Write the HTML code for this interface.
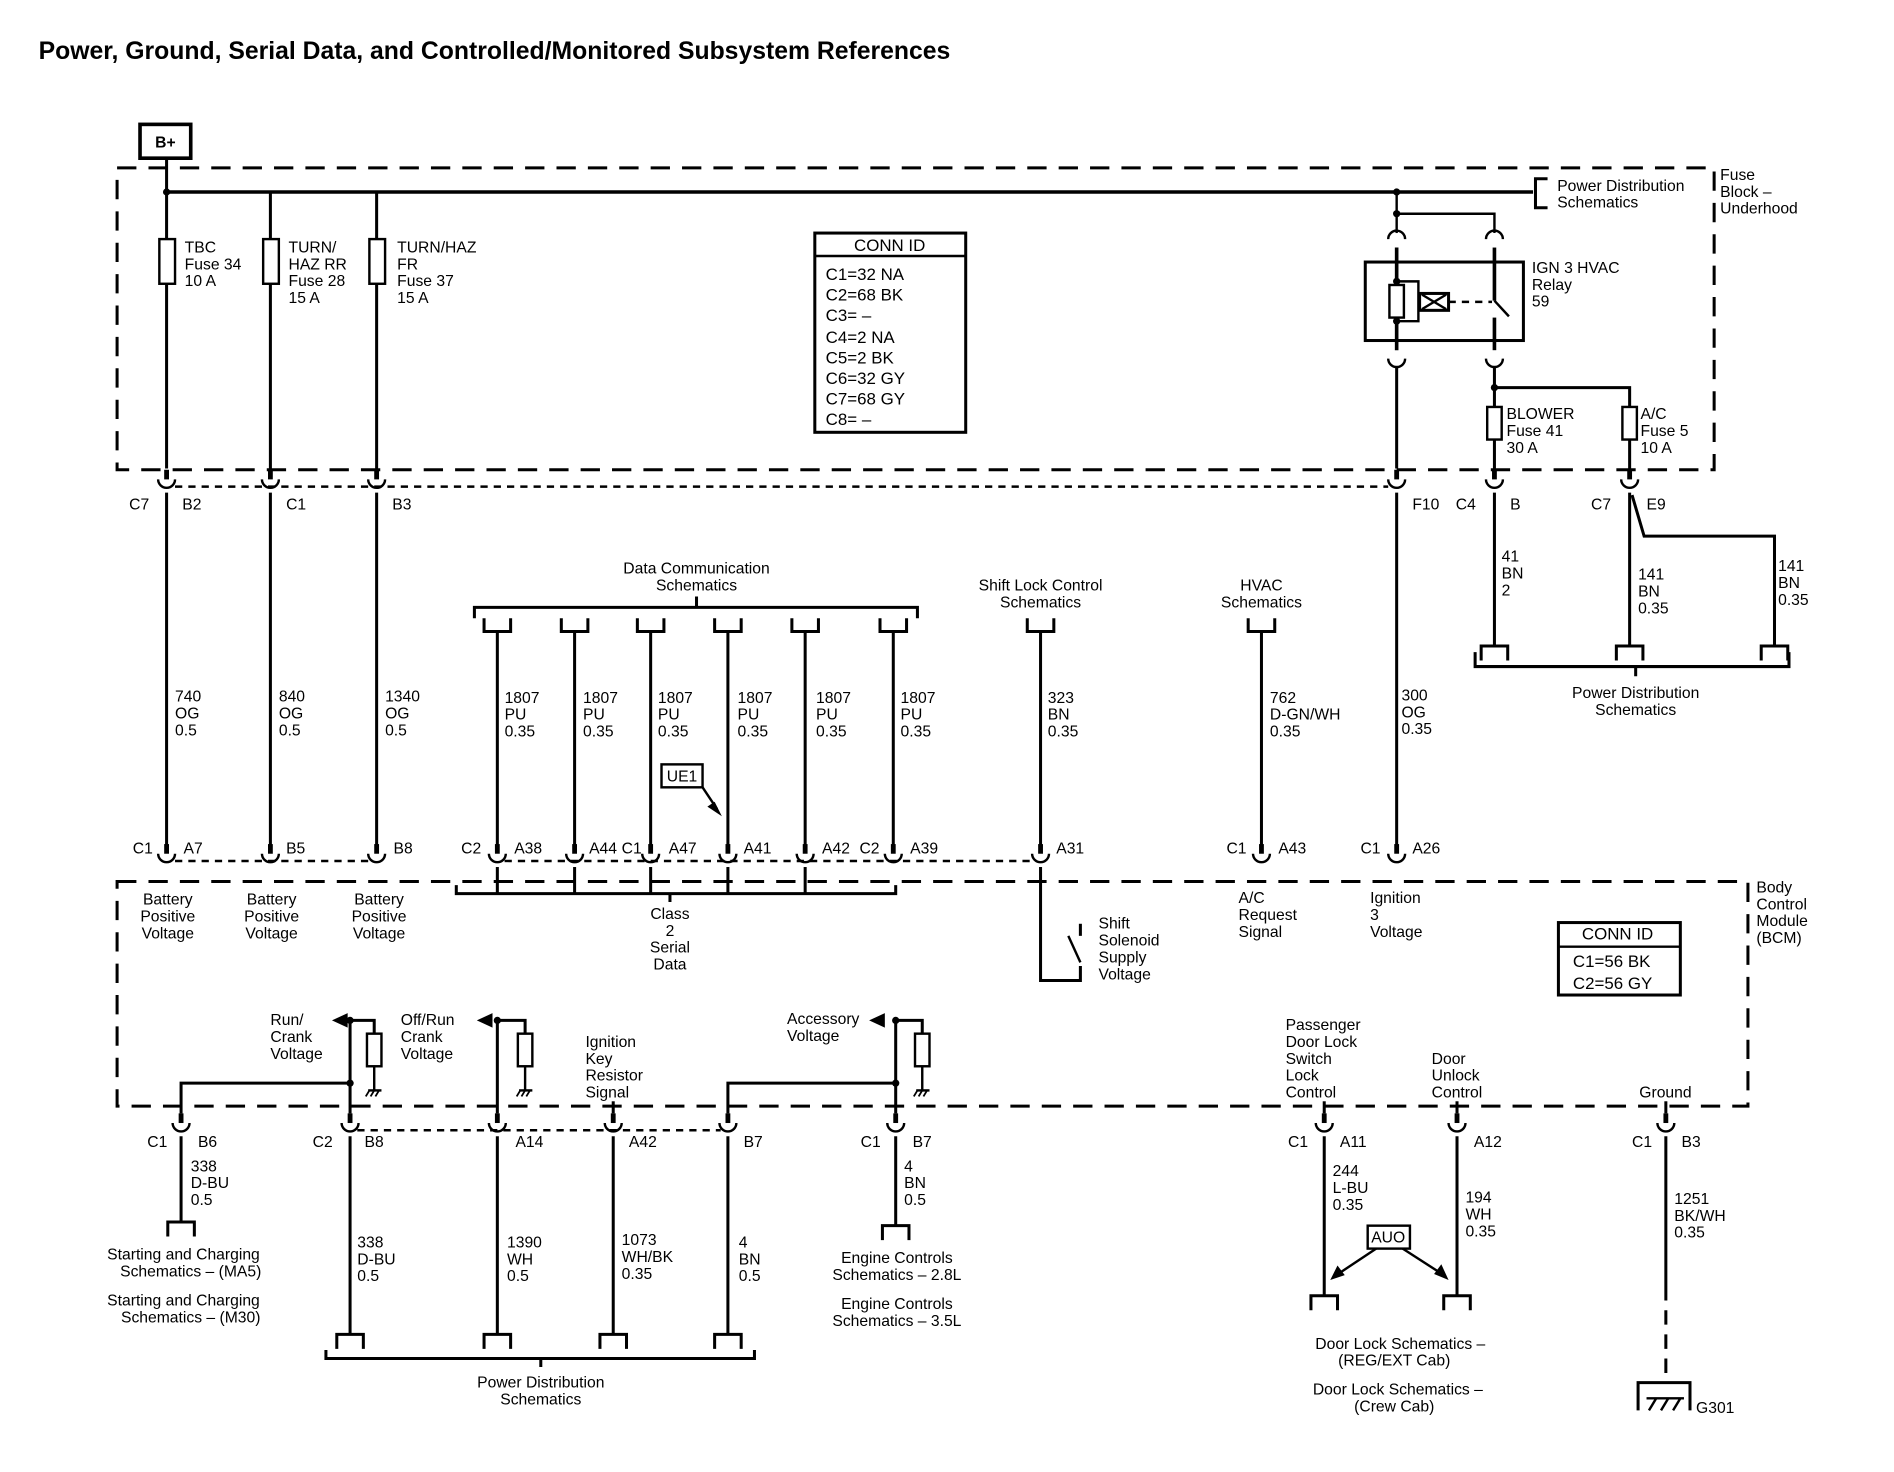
<!DOCTYPE html>
<html><head><meta charset="utf-8"><style>
html,body{margin:0;padding:0;background:#fff}
svg{display:block}
text{font-family:"Liberation Sans",Arial,sans-serif;font-size:13px;fill:#000;letter-spacing:0px}
.c{text-anchor:middle}.r{text-anchor:end}.b{font-weight:bold}
</style></head><body>
<svg width="1894" height="1472" viewBox="0 0 1569 1219" preserveAspectRatio="none" xmlns="http://www.w3.org/2000/svg">
<defs>
<g id="k"><line x1="0" y1="-13" x2="0" y2="-5" stroke="#000" stroke-width="4"/><path d="M-7,-5 A7,7 0 0 0 7,-5" fill="none" stroke="#000" stroke-width="2"/></g>
<path id="pu" d="M-11,0 V11 H11 V0" fill="none" stroke="#000" stroke-width="2.5"/>
<path id="pd" d="M-11,12 V0 H11 V12" fill="none" stroke="#000" stroke-width="2.5"/>
<g id="gnd"><line x1="0" y1="0" x2="0" y2="20" stroke="#000" stroke-width="2"/><line x1="-5" y1="20" x2="6" y2="20" stroke="#000" stroke-width="2"/><path d="M-4,20 l-3,5 M0,20 l-3,5 M4,20 l-3,5" stroke="#000" stroke-width="1.5"/></g>
</defs>
<rect width="1569" height="1219" fill="#fff"/>
<text x="32" y="49" class="b" style="font-size:20.5px">Power, Ground, Serial Data, and Controlled/Monitored Subsystem References</text>

<g fill="none" stroke="#000">
<rect x="116" y="103" width="42" height="28" stroke-width="3"/>
<rect x="97" y="139" width="1323" height="250" stroke-width="2.5" stroke-dasharray="16,10"/>
<rect x="97" y="730" width="1351" height="186" stroke-width="2.5" stroke-dasharray="16,10"/>
<line x1="138" y1="159" x2="1270" y2="159" stroke-width="3"/>
<path d="M1282,148 H1272 V172 H1282" stroke-width="2.5"/>
<line x1="138" y1="131" x2="138" y2="388" stroke-width="2.5"/>
<line x1="224" y1="159" x2="224" y2="388" stroke-width="2.5"/>
<line x1="312" y1="159" x2="312" y2="388" stroke-width="2.5"/>
<rect x="132" y="198" width="13" height="37" stroke-width="2" fill="#fff"/>
<rect x="218" y="198" width="13" height="37" stroke-width="2" fill="#fff"/>
<rect x="306" y="198" width="13" height="37" stroke-width="2" fill="#fff"/>
<line x1="1157" y1="159" x2="1157" y2="193" stroke-width="2"/>
<path d="M1157,177 H1238 V193" stroke-width="2"/>
<rect x="1131" y="217" width="131" height="65" stroke-width="2.5"/>
<line x1="1157" y1="205" x2="1157" y2="290" stroke-width="3"/>
<line x1="1238" y1="205" x2="1238" y2="249" stroke-width="3"/>
<line x1="1238" y1="263" x2="1238" y2="290" stroke-width="3"/>
<line x1="1238" y1="249" x2="1250" y2="262" stroke-width="2"/>
<path d="M1157,233 H1175 V266 H1157" stroke-width="2"/>
<rect x="1151" y="236" width="12" height="27" stroke-width="2" fill="#fff"/>
<rect x="1176" y="243" width="24" height="14" stroke-width="2.5" fill="#fff"/>
<path d="M1178,244 L1198,256 M1198,244 L1178,256" stroke-width="2"/>
<line x1="1200" y1="250" x2="1236" y2="250" stroke-width="2" stroke-dasharray="6,5"/>
<path d="M1150,198 A7,7 0 0 1 1164,198 M1231,198 A7,7 0 0 1 1245,198 M1150,297 A7,7 0 0 0 1164,297 M1231,297 A7,7 0 0 0 1245,297" stroke-width="2"/>
<line x1="1157" y1="303" x2="1157" y2="388" stroke-width="2.5"/>
<line x1="1238" y1="303" x2="1238" y2="388" stroke-width="2.5"/>
<path d="M1238,321 H1350 V388" stroke-width="2.5"/>
<rect x="1232" y="337" width="12" height="27" stroke-width="2" fill="#fff"/>
<rect x="1344" y="337" width="12" height="27" stroke-width="2" fill="#fff"/>
<rect x="675" y="193" width="125" height="165" stroke-width="2.5"/>
<line x1="675" y1="212" x2="800" y2="212" stroke-width="2"/>
<rect x="1291" y="764" width="101" height="60" stroke-width="2.5"/>
<line x1="1291" y1="784" x2="1392" y2="784" stroke-width="2"/>
<line x1="145" y1="403" x2="1150" y2="403" stroke-width="2" stroke-dasharray="6,5"/>
<g stroke-width="2.5">
<line x1="138" y1="408" x2="138" y2="700"/><line x1="224" y1="408" x2="224" y2="700"/><line x1="312" y1="408" x2="312" y2="700"/><line x1="1157" y1="408" x2="1157" y2="700"/>
<line x1="1238" y1="408" x2="1238" y2="535"/><line x1="1350" y1="408" x2="1350" y2="535"/>
<path d="M1352,410 L1362,444 H1470 V535"/>
<path d="M1222,540 V552 H1482 V540 M1355,552 V560"/>
<line x1="412" y1="523" x2="412" y2="700"/><line x1="476" y1="523" x2="476" y2="700"/><line x1="539" y1="523" x2="539" y2="700"/><line x1="603" y1="523" x2="603" y2="700"/><line x1="667" y1="523" x2="667" y2="700"/><line x1="740" y1="523" x2="740" y2="700"/>
<line x1="862" y1="523" x2="862" y2="700"/><line x1="1045" y1="523" x2="1045" y2="700"/>
<path d="M393,512 V503 H760 V512 M577,503 V494"/>
</g>
<rect x="548" y="633" width="34" height="19" stroke-width="2"/>
<line x1="582" y1="652" x2="594" y2="670" stroke-width="2"/>
<line x1="145" y1="713" x2="306" y2="713" stroke-width="2" stroke-dasharray="6,5"/>
<line x1="418" y1="713" x2="856" y2="713" stroke-width="2" stroke-dasharray="6,5"/>
<g stroke-width="2.5">
<path d="M378,733 V740 H742 V733 M555,740 V747"/>
<line x1="412" y1="718" x2="412" y2="740"/><line x1="476" y1="718" x2="476" y2="740"/><line x1="539" y1="718" x2="539" y2="740"/><line x1="603" y1="718" x2="603" y2="740"/><line x1="667" y1="718" x2="667" y2="740"/>
<path d="M862,718 V812 H895 V800"/>
<line x1="885" y1="775" x2="895" y2="797" stroke-width="2"/>
<line x1="895" y1="765" x2="895" y2="775"/>
<path d="M290,845 V922 M290,897 H150 V922 M290,845 H310 V856"/>
<path d="M412,845 V922 M412,845 H435 V856"/>
<path d="M742,845 V922 M742,897 H603 V922 M742,845 H764 V856"/>
<line x1="508" y1="912" x2="508" y2="922"/>
<line x1="1097" y1="912" x2="1097" y2="922"/><line x1="1207" y1="912" x2="1207" y2="922"/><line x1="1380" y1="912" x2="1380" y2="922"/>
</g>
<rect x="304" y="856" width="12" height="27" stroke-width="2" fill="#fff"/>
<rect x="429" y="856" width="12" height="27" stroke-width="2" fill="#fff"/>
<rect x="758" y="856" width="12" height="27" stroke-width="2" fill="#fff"/>
<line x1="296" y1="936" x2="597" y2="936" stroke-width="2" stroke-dasharray="6,5"/>
<g stroke-width="2.5">
<line x1="150" y1="941" x2="150" y2="1012"/>
<line x1="290" y1="941" x2="290" y2="1105"/><line x1="412" y1="941" x2="412" y2="1105"/><line x1="508" y1="941" x2="508" y2="1105"/><line x1="603" y1="941" x2="603" y2="1105"/>
<path d="M270,1118 V1125 H625 V1118 M448,1125 V1132"/>
<line x1="742" y1="941" x2="742" y2="1015"/>
<line x1="1097" y1="941" x2="1097" y2="1073"/><line x1="1207" y1="941" x2="1207" y2="1073"/>
<line x1="1380" y1="941" x2="1380" y2="1065"/>
<line x1="1380" y1="1065" x2="1380" y2="1145" stroke-dasharray="12,8"/>
<path d="M1357,1168 V1145 H1400 V1168"/>
<path d="M1366,1168 l6,-10 M1376,1168 l6,-10 M1386,1168 l6,-10 M1364,1158 H1395" stroke-width="2"/>
</g>
<rect x="1133" y="1015" width="35" height="19" stroke-width="2"/>
<line x1="1140" y1="1034" x2="1110" y2="1054" stroke-width="2"/>
<line x1="1162" y1="1034" x2="1193" y2="1054" stroke-width="2"/>
</g>
<g fill="#000">
<polygon points="598,676 586,668 592,664"/>
<polygon points="1102,1060 1108,1048 1114,1056"/>
<polygon points="1200,1060 1188,1055 1194,1047"/>
<polygon points="275,845 288,839 288,851"/>
<polygon points="395,845 408,839 408,851"/>
<polygon points="720,845 733,839 733,851"/>
<circle cx="138" cy="159" r="3"/><circle cx="1157" cy="159" r="3"/><circle cx="1157" cy="177" r="3"/><circle cx="1157" cy="233" r="3"/><circle cx="1157" cy="266" r="3"/><circle cx="1238" cy="321" r="3"/>
<circle cx="290" cy="845" r="3"/><circle cx="290" cy="897" r="3"/><circle cx="412" cy="845" r="3"/><circle cx="742" cy="845" r="3"/><circle cx="742" cy="897" r="3"/>
</g>
<use href="#gnd" x="310" y="883"/><use href="#gnd" x="435" y="883"/><use href="#gnd" x="764" y="883"/>
<use href="#k" x="138" y="402"/><use href="#k" x="224" y="402"/><use href="#k" x="312" y="402"/><use href="#k" x="1157" y="402"/><use href="#k" x="1238" y="402"/><use href="#k" x="1350" y="402"/>
<use href="#k" x="138" y="712"/><use href="#k" x="224" y="712"/><use href="#k" x="312" y="712"/><use href="#k" x="412" y="712"/><use href="#k" x="476" y="712"/><use href="#k" x="539" y="712"/><use href="#k" x="603" y="712"/><use href="#k" x="667" y="712"/><use href="#k" x="740" y="712"/><use href="#k" x="862" y="712"/><use href="#k" x="1045" y="712"/><use href="#k" x="1157" y="712"/>
<use href="#k" x="150" y="935"/><use href="#k" x="290" y="935"/><use href="#k" x="412" y="935"/><use href="#k" x="508" y="935"/><use href="#k" x="603" y="935"/><use href="#k" x="742" y="935"/><use href="#k" x="1097" y="935"/><use href="#k" x="1207" y="935"/><use href="#k" x="1380" y="935"/>
<use href="#pu" x="412" y="512"/><use href="#pu" x="476" y="512"/><use href="#pu" x="539" y="512"/><use href="#pu" x="603" y="512"/><use href="#pu" x="667" y="512"/><use href="#pu" x="740" y="512"/><use href="#pu" x="862" y="512"/><use href="#pu" x="1045" y="512"/>
<use href="#pd" x="1238" y="535"/><use href="#pd" x="1350" y="535"/><use href="#pd" x="1470" y="535"/>
<use href="#pd" x="150" y="1012"/><use href="#pd" x="742" y="1015"/><use href="#pd" x="290" y="1105"/><use href="#pd" x="412" y="1105"/><use href="#pd" x="508" y="1105"/><use href="#pd" x="603" y="1105"/><use href="#pd" x="1097" y="1073"/><use href="#pd" x="1207" y="1073"/>

<text x="137" y="122" class="c b">B+</text>
<text x="153" y="209">TBC</text><text x="153" y="223">Fuse 34</text><text x="153" y="237">10 A</text>
<text x="239" y="209">TURN/</text><text x="239" y="223">HAZ RR</text><text x="239" y="237">Fuse 28</text><text x="239" y="251">15 A</text>
<text x="329" y="209">TURN/HAZ</text><text x="329" y="223">FR</text><text x="329" y="237">Fuse 37</text><text x="329" y="251">15 A</text>
<text x="737" y="208" class="c" style="font-size:14px">CONN ID</text>
<text x="684" y="232" style="font-size:14px">C1=32 NA</text><text x="684" y="249" style="font-size:14px">C2=68 BK</text><text x="684" y="266" style="font-size:14px">C3= –</text><text x="684" y="284" style="font-size:14px">C4=2 NA</text><text x="684" y="301" style="font-size:14px">C5=2 BK</text><text x="684" y="318" style="font-size:14px">C6=32 GY</text><text x="684" y="335" style="font-size:14px">C7=68 GY</text><text x="684" y="352" style="font-size:14px">C8= –</text>
<text x="1290" y="158">Power Distribution</text><text x="1290" y="172">Schematics</text>
<text x="1425" y="149">Fuse</text><text x="1425" y="163">Block –</text><text x="1425" y="177">Underhood</text>
<text x="1269" y="226">IGN 3 HVAC</text><text x="1269" y="240">Relay</text><text x="1269" y="254">59</text>
<text x="1248" y="347">BLOWER</text><text x="1248" y="361">Fuse 41</text><text x="1248" y="375">30 A</text>
<text x="1359" y="347">A/C</text><text x="1359" y="361">Fuse 5</text><text x="1359" y="375">10 A</text>
<text x="107" y="422">C7</text><text x="151" y="422">B2</text><text x="237" y="422">C1</text><text x="325" y="422">B3</text><text x="1170" y="422">F10</text><text x="1206" y="422">C4</text><text x="1251" y="422">B</text><text x="1318" y="422">C7</text><text x="1364" y="422">E9</text>
<text x="1244" y="465">41</text><text x="1244" y="479">BN</text><text x="1244" y="493">2</text>
<text x="1357" y="480">141</text><text x="1357" y="494">BN</text><text x="1357" y="508">0.35</text>
<text x="1473" y="473">141</text><text x="1473" y="487">BN</text><text x="1473" y="501">0.35</text>
<text x="1355" y="578" class="c">Power Distribution</text><text x="1355" y="592" class="c">Schematics</text>
<text x="577" y="475" class="c">Data Communication</text><text x="577" y="489" class="c">Schematics</text>
<text x="862" y="489" class="c">Shift Lock Control</text><text x="862" y="503" class="c">Schematics</text>
<text x="1045" y="489" class="c">HVAC</text><text x="1045" y="503" class="c">Schematics</text>
<text x="145" y="581">740</text><text x="145" y="595">OG</text><text x="145" y="609">0.5</text>
<text x="231" y="581">840</text><text x="231" y="595">OG</text><text x="231" y="609">0.5</text>
<text x="319" y="581">1340</text><text x="319" y="595">OG</text><text x="319" y="609">0.5</text>
<text x="418" y="582">1807</text><text x="418" y="596">PU</text><text x="418" y="610">0.35</text>
<text x="483" y="582">1807</text><text x="483" y="596">PU</text><text x="483" y="610">0.35</text>
<text x="545" y="582">1807</text><text x="545" y="596">PU</text><text x="545" y="610">0.35</text>
<text x="611" y="582">1807</text><text x="611" y="596">PU</text><text x="611" y="610">0.35</text>
<text x="676" y="582">1807</text><text x="676" y="596">PU</text><text x="676" y="610">0.35</text>
<text x="746" y="582">1807</text><text x="746" y="596">PU</text><text x="746" y="610">0.35</text>
<text x="868" y="582">323</text><text x="868" y="596">BN</text><text x="868" y="610">0.35</text>
<text x="1052" y="582">762</text><text x="1052" y="596">D-GN/WH</text><text x="1052" y="610">0.35</text>
<text x="1161" y="580">300</text><text x="1161" y="594">OG</text><text x="1161" y="608">0.35</text>
<text x="565" y="647" class="c">UE1</text>
<text x="110" y="707">C1</text><text x="152" y="707">A7</text><text x="237" y="707">B5</text><text x="326" y="707">B8</text><text x="382" y="707">C2</text><text x="426" y="707">A38</text><text x="488" y="707">A44</text><text x="515" y="707">C1</text><text x="554" y="707">A47</text><text x="616" y="707">A41</text><text x="681" y="707">A42</text><text x="712" y="707">C2</text><text x="754" y="707">A39</text><text x="875" y="707">A31</text><text x="1016" y="707">C1</text><text x="1059" y="707">A43</text><text x="1127" y="707">C1</text><text x="1170" y="707">A26</text>
<text x="139" y="749" class="c">Battery</text><text x="139" y="763" class="c">Positive</text><text x="139" y="777" class="c">Voltage</text>
<text x="225" y="749" class="c">Battery</text><text x="225" y="763" class="c">Positive</text><text x="225" y="777" class="c">Voltage</text>
<text x="314" y="749" class="c">Battery</text><text x="314" y="763" class="c">Positive</text><text x="314" y="777" class="c">Voltage</text>
<text x="555" y="761" class="c">Class</text><text x="555" y="775" class="c">2</text><text x="555" y="789" class="c">Serial</text><text x="555" y="803" class="c">Data</text>
<text x="910" y="769">Shift</text><text x="910" y="783">Solenoid</text><text x="910" y="797">Supply</text><text x="910" y="811">Voltage</text>
<text x="1026" y="748">A/C</text><text x="1026" y="762">Request</text><text x="1026" y="776">Signal</text>
<text x="1135" y="748">Ignition</text><text x="1135" y="762">3</text><text x="1135" y="776">Voltage</text>
<text x="1340" y="778" class="c" style="font-size:14px">CONN ID</text><text x="1303" y="801" style="font-size:14px">C1=56 BK</text><text x="1303" y="819" style="font-size:14px">C2=56 GY</text>
<text x="1455" y="739">Body</text><text x="1455" y="753">Control</text><text x="1455" y="767">Module</text><text x="1455" y="781">(BCM)</text>
<text x="224" y="849">Run/</text><text x="224" y="863">Crank</text><text x="224" y="877">Voltage</text>
<text x="332" y="849">Off/Run</text><text x="332" y="863">Crank</text><text x="332" y="877">Voltage</text>
<text x="485" y="867">Ignition</text><text x="485" y="881">Key</text><text x="485" y="895">Resistor</text><text x="485" y="909">Signal</text>
<text x="652" y="848">Accessory</text><text x="652" y="862">Voltage</text>
<text x="1065" y="853">Passenger</text><text x="1065" y="867">Door Lock</text><text x="1065" y="881">Switch</text><text x="1065" y="895">Lock</text><text x="1065" y="909">Control</text>
<text x="1186" y="881">Door</text><text x="1186" y="895">Unlock</text><text x="1186" y="909">Control</text>
<text x="1358" y="909">Ground</text>
<text x="122" y="950">C1</text><text x="164" y="950">B6</text><text x="259" y="950">C2</text><text x="302" y="950">B8</text><text x="427" y="950">A14</text><text x="521" y="950">A42</text><text x="616" y="950">B7</text><text x="713" y="950">C1</text><text x="756" y="950">B7</text><text x="1067" y="950">C1</text><text x="1110" y="950">A11</text><text x="1221" y="950">A12</text><text x="1352" y="950">C1</text><text x="1393" y="950">B3</text>
<text x="158" y="970">338</text><text x="158" y="984">D-BU</text><text x="158" y="998">0.5</text>
<text x="152" y="1043" class="c">Starting and Charging</text><text x="158" y="1057" class="c">Schematics – (MA5)</text>
<text x="152" y="1081" class="c">Starting and Charging</text><text x="158" y="1095" class="c">Schematics – (M30)</text>
<text x="296" y="1033">338</text><text x="296" y="1047">D-BU</text><text x="296" y="1061">0.5</text>
<text x="420" y="1033">1390</text><text x="420" y="1047">WH</text><text x="420" y="1061">0.5</text>
<text x="515" y="1031">1073</text><text x="515" y="1045">WH/BK</text><text x="515" y="1059">0.35</text>
<text x="612" y="1033">4</text><text x="612" y="1047">BN</text><text x="612" y="1061">0.5</text>
<text x="448" y="1149" class="c">Power Distribution</text><text x="448" y="1163" class="c">Schematics</text>
<text x="749" y="970">4</text><text x="749" y="984">BN</text><text x="749" y="998">0.5</text>
<text x="743" y="1046" class="c">Engine Controls</text><text x="743" y="1060" class="c">Schematics – 2.8L</text>
<text x="743" y="1084" class="c">Engine Controls</text><text x="743" y="1098" class="c">Schematics – 3.5L</text>
<text x="1104" y="974">244</text><text x="1104" y="988">L-BU</text><text x="1104" y="1002">0.35</text>
<text x="1214" y="996">194</text><text x="1214" y="1010">WH</text><text x="1214" y="1024">0.35</text>
<text x="1150" y="1029" class="c">AUO</text>
<text x="1160" y="1117" class="c">Door Lock Schematics –</text><text x="1155" y="1131" class="c">(REG/EXT Cab)</text>
<text x="1158" y="1155" class="c">Door Lock Schematics –</text><text x="1155" y="1169" class="c">(Crew Cab)</text>
<text x="1387" y="997">1251</text><text x="1387" y="1011">BK/WH</text><text x="1387" y="1025">0.35</text>
<text x="1405" y="1170">G301</text>
</svg>
</body></html>
